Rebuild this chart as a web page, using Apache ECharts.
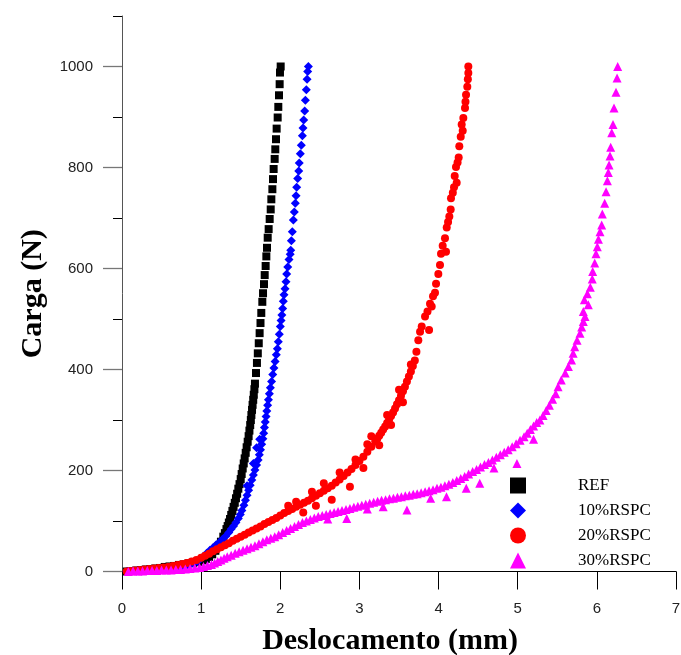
<!DOCTYPE html>
<html>
<head>
<meta charset="utf-8">
<script src="https://cdn.jsdelivr.net/npm/echarts@6/dist/echarts.min.js"></script>
<style>
  html, body { margin: 0; padding: 0; background: #ffffff; }
  #chart { width: 681px; height: 655px; }
</style>
</head>
<body>
<div id="chart"></div>
<script>
// Load-displacement curves: displacement (mm) vs. load (N)
const seriesNames = ['REF', '10%RSPC', '20%RSPC', '30%RSPC'];

const refPoints = [
  [0.06,0],[0.12,1],[0.18,2],[0.24,3],[0.30,4],[0.36,5],[0.42,6],[0.48,7],[0.54,9],[0.60,10],
  [0.66,11],[0.72,13],[0.78,14],[0.84,16],[0.90,17],[0.96,19],[1.02,22],[1.06,25],[1.10,29],
  [1.14,34],[1.18,41],[1.22,50],[1.25,59],[1.28,69],[1.30,76],[1.32,84],[1.335,90],[1.35,97],
  [1.365,104],[1.38,112],[1.395,120],[1.41,128],[1.425,136],[1.44,145],[1.455,154],[1.47,164],
  [1.485,173],[1.50,183],[1.512,193],[1.525,204],[1.538,214],[1.55,224],[1.563,235],[1.575,246],
  [1.588,257],[1.60,268],[1.61,279],[1.62,290],[1.628,300],[1.635,310],[1.643,320],[1.65,330],
  [1.658,340],[1.665,350],[1.673,361],[1.68,372],[1.693,393],[1.705,413],[1.716,432],[1.728,452],
  [1.739,472],[1.75,492],[1.76,512],[1.773,534],[1.782,551],[1.794,569],[1.803,587],[1.815,605],
  [1.824,624],[1.832,641],[1.841,661],[1.853,678],[1.866,698],[1.879,717],[1.887,737],[1.90,757],
  [1.908,777],[1.916,797],[1.929,817],[1.937,836],[1.946,856],[1.954,877],[1.967,899],[1.975,920],
  [1.984,943],[1.992,965],[1.996,988],[2.005,1000]
];

const rspc10Points = [
  [0.06,0],[0.12,0],[0.18,1],[0.25,1],[0.32,2],[0.40,2],[0.48,3],[0.55,4],[0.62,5],[0.70,7],
  [0.77,9],[0.84,12],[0.90,16],[0.95,20],[0.99,25],[1.03,30],[1.07,36],[1.11,42],[1.15,47],
  [1.19,53],[1.23,58],[1.27,64],[1.31,70],[1.35,77],[1.38,84],[1.41,90],[1.44,97],[1.47,105],
  [1.495,113],[1.515,121],[1.54,131],[1.56,141],[1.58,151],[1.60,161],[1.62,171],[1.64,181],
  [1.66,191],[1.68,201],[1.70,211],[1.72,221],[1.735,231],[1.75,241],[1.765,252],[1.78,263],
  [1.79,274],[1.80,285],[1.81,296],[1.82,307],[1.83,318],[1.84,329],[1.85,340],[1.862,352],
  [1.875,364],[1.89,376],[1.905,390],[1.92,403],[1.935,416],[1.95,429],[1.963,441],[1.975,455],
  [1.988,470],[2.00,485],[2.01,497],[2.02,508],[2.03,521],[2.038,535],[2.047,548],[2.06,560],
  [2.072,574],[2.081,589],[2.094,603],[2.11,618],[2.125,628],[2.132,636],[2.14,655],[2.152,673],
  [2.165,696],[2.177,712],[2.19,729],[2.199,744],[2.207,761],[2.22,778],[2.233,793],[2.24,809],
  [2.253,827],[2.266,844],[2.279,863],[2.287,878],[2.296,894],[2.308,912],[2.317,933],[2.329,954],
  [2.338,975],[2.346,990],[2.355,1000],
  [1.70,245],[1.74,262],[1.58,170],[1.66,214]
];

const rspc20Points = [
  [0.06,0],[0.10,1],[0.16,2],[0.22,3],[0.28,4],[0.34,5],[0.40,6],[0.46,7],[0.52,8],[0.58,9],
  [0.64,11],[0.70,13],[0.76,15],[0.82,17],[0.88,20],[0.94,23],[1.00,27],[1.05,31],[1.10,35],
  [1.15,40],[1.20,44],[1.25,48],[1.30,52],[1.35,56],[1.40,61],[1.45,65],[1.50,69],[1.55,73],
  [1.60,77],[1.65,81],[1.70,85],[1.75,89],[1.80,94],[1.85,98],[1.90,102],[1.95,106],[2.00,111],
  [2.05,116],[2.10,120],[2.15,124],[2.20,128],[2.25,132],[2.30,136],[2.35,140],[2.40,145],
  [2.45,150],[2.50,155],[2.55,160],[2.60,165],[2.65,170],[2.70,176],[2.75,182],[2.80,189],
  [2.85,196],[2.90,203],[2.95,211],[3.00,219],[3.05,227],[3.10,237],[3.15,247],[3.20,258],
  [3.225,263],[3.25,269],[3.275,275],[3.30,281],[3.325,287],[3.35,294],[3.375,301],[3.40,308],
  [3.425,315],[3.45,323],[3.475,331],[3.50,339],[3.525,348],[3.55,357],[3.575,366],[3.60,376],
  [3.625,386],[3.65,396],[3.675,407],[3.70,418],[3.72,435],[3.744,458],[3.766,475],[3.787,485],
  [3.829,505],[3.86,515],[3.892,530],[3.913,525],[3.93,545],[3.955,552],[3.968,570],[3.997,589],
  [4.018,607],[4.031,629],[4.052,645],[4.094,633],[4.081,660],[4.103,681],[4.12,692],[4.136,703],
  [4.153,717],[4.157,739],[4.18,750],[4.195,761],[4.229,770],[4.204,783],[4.22,801],[4.24,810],
  [4.254,820],[4.262,842],[4.28,861],[4.305,873],[4.292,885],[4.313,898],[4.334,918],[4.34,930],
  [4.347,944],[4.363,960],[4.37,975],[4.376,987],[4.376,1000],
  [2.29,117],[2.45,130],[2.65,142],[2.88,168],[3.05,205],[3.25,250],[3.40,290],[3.55,335],
  [2.20,138],[2.55,175],[2.75,196],[3.15,268],[3.35,310],[3.50,360],[3.65,410],[3.88,478],
  [2.10,130],[2.40,158],[2.95,222],[3.10,252]
];

const rspc30Points = [
  [0.08,0],[0.14,1],[0.20,1],[0.26,1],[0.32,2],[0.38,2],[0.44,2],[0.50,3],[0.56,3],[0.62,3],
  [0.68,4],[0.74,4],[0.80,5],[0.86,6],[0.92,7],[0.98,8],[1.03,10],[1.08,12],[1.13,14],[1.17,17],
  [1.21,20],[1.25,23],[1.29,26],[1.33,29],[1.38,32],[1.43,36],[1.48,39],[1.53,42],[1.58,45],
  [1.63,48],[1.68,51],[1.73,55],[1.78,59],[1.83,63],[1.88,66],[1.93,69],[1.98,73],[2.03,77],
  [2.08,81],[2.13,85],[2.18,89],[2.23,93],[2.28,97],[2.33,100],[2.38,103],[2.43,106],[2.48,109],
  [2.53,111],[2.58,113],[2.63,115],[2.68,117],[2.73,119],[2.78,121],[2.83,123],[2.88,125],
  [2.93,127],[2.98,129],[3.03,131],[3.08,133],[3.13,135],[3.18,137],[3.23,139],[3.28,141],
  [3.33,142],[3.38,144],[3.43,145],[3.48,147],[3.53,148],[3.58,150],[3.63,151],[3.68,153],
  [3.73,154],[3.78,156],[3.83,158],[3.88,160],[3.93,162],[3.98,165],[4.03,167],[4.08,170],
  [4.13,173],[4.18,176],[4.23,180],[4.28,184],[4.33,188],[4.38,193],[4.43,198],[4.48,202],
  [4.53,207],[4.58,212],[4.63,216],[4.68,221],[4.73,226],[4.78,231],[4.83,236],[4.88,241],
  [4.93,247],[4.98,253],[5.03,260],[5.08,267],[5.12,274],[5.16,281],[5.20,288],[5.24,295],
  [5.28,300],[5.32,309],[5.36,319],[5.40,329],[5.44,341],[5.48,352],[5.51,366],[5.55,379],
  [5.60,393],[5.64,406],[5.68,419],[5.70,432],[5.72,445],[5.75,458],[5.787,472],[5.808,484],
  [5.829,495],[5.85,505],[5.829,515],[5.892,528],[5.842,538],[5.88,550],[5.917,563],[5.942,579],
  [5.947,594],[5.973,611],[5.989,629],[6.006,643],[6.02,658],[6.04,673],[6.061,686],[6.069,708],
  [6.099,729],[6.116,752],[6.133,774],[6.145,790],[6.154,805],[6.166,823],[6.175,840],
  [6.188,869],[6.204,885],[6.217,918],[6.242,949],[6.255,977],[6.263,1000],
  [2.84,105],[3.30,128],[3.60,122],[4.10,148],[4.35,165],[4.52,175],[4.99,214],[3.90,145],
  [4.70,205],[5.20,262],[2.60,104],[3.10,124]
];

// Axis tick positions and labels
const xTicks = [0, 1, 2, 3, 4, 5, 6, 7];
const yMajorTicks = [0, 200, 400, 600, 800, 1000];
const yMinorTicks = [100, 300, 500, 700, 900, 1100];

const seriesData = [refPoints, rspc10Points, rspc20Points, rspc30Points];
const seriesColors = ['#000000', '#0000ff', '#ff0000', '#ff00ff'];
const seriesSymbols = ['rect', 'diamond', 'circle', 'triangle'];
const seriesSizes = [8, 9, 8, 9];

const chart = echarts.init(document.getElementById('chart'), null, { renderer: 'canvas' });

const tickFont = { fontFamily: 'Liberation Sans, Arial, sans-serif', fontSize: 15, color: '#222' };
const titleFont = { fontFamily: 'Liberation Serif, Times New Roman, serif', fontWeight: 'bold', fontSize: 30, color: '#000' };
const plainNumber = (v) => String(v);

chart.setOption({
  animation: false,
  backgroundColor: '#ffffff',
  grid: { left: 122, right: 5, top: 16, bottom: 83.5, containLabel: false, outerBoundsMode: 'none' },
  legend: {
    data: seriesNames,
    orient: 'vertical',
    left: 510,
    top: 477,
    padding: 0,
    itemWidth: 16,
    itemHeight: 16,
    itemGap: 8,
    textStyle: {
      fontFamily: 'Liberation Serif, Times New Roman, serif',
      fontSize: 17,
      color: '#000',
      padding: [0, 0, 0, 47]
    }
  },
  xAxis: {
    type: 'value',
    min: 0,
    max: 7,
    interval: 1,
    name: 'Deslocamento (mm)',
    nameLocation: 'middle',
    nameGap: 55,
    nameTextStyle: Object.assign({ padding: [0, 18, 0, 0] }, titleFont),
    axisLine: { show: true, onZero: false, lineStyle: { color: '#000', width: 1 } },
    axisTick: { show: true, inside: false, length: 18, customValues: xTicks, lineStyle: { color: '#000', width: 1 } },
    axisLabel: Object.assign({ margin: 30, customValues: xTicks, formatter: plainNumber }, tickFont),
    splitLine: { show: false }
  },
  yAxis: [
    {
      type: 'value',
      min: 0,
      max: 1100,
      position: 'left',
      name: 'Carga (N)',
      nameLocation: 'middle',
      nameGap: 74,
      nameRotate: 90,
      nameTextStyle: titleFont,
      axisLine: { show: true, lineStyle: { color: '#555', width: 1 } },
      axisTick: { show: true, inside: false, length: 19, customValues: yMajorTicks, lineStyle: { color: '#777', width: 1.3 } },
      axisLabel: Object.assign({ margin: 29, customValues: yMajorTicks, formatter: plainNumber }, tickFont),
      splitLine: { show: false }
    },
    {
      type: 'value',
      min: 0,
      max: 1100,
      position: 'left',
      offset: 0,
      axisLine: { show: false },
      axisTick: { show: true, inside: false, length: 9, customValues: yMinorTicks, lineStyle: { color: '#000', width: 1 } },
      axisLabel: { show: false },
      splitLine: { show: false }
    }
  ],
  series: seriesNames.map((name, i) => ({
    name: name,
    type: 'scatter',
    xAxisIndex: 0,
    yAxisIndex: 0,
    data: seriesData[i],
    symbol: seriesSymbols[i],
    symbolSize: seriesSizes[i],
    itemStyle: { color: seriesColors[i], opacity: 1 },
    emphasis: { disabled: true },
    large: false,
    progressive: 0
  }))
});
</script>
</body>
</html>
